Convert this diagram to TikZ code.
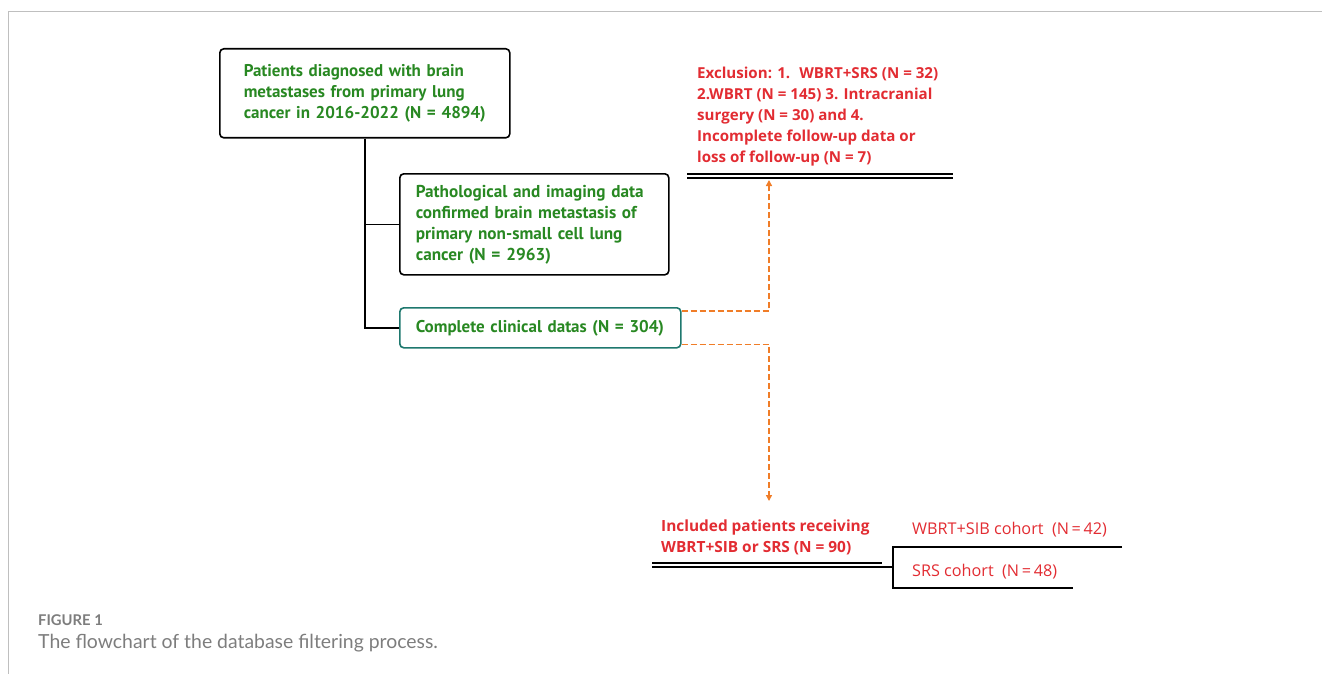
\documentclass[tikz,border=0pt]{standalone}
\usepackage{fontspec}
\setmainfont{Open Sans}
\newfontfamily\boxfont{PT Sans}
\newfontfamily\capfont{Lato}
\usetikzlibrary{positioning, arrows.meta}

\definecolor{flowgreen}{RGB}{40,136,34}
\definecolor{flowred}{RGB}{226,44,50}
\definecolor{flowteal}{RGB}{30,120,110}
\definecolor{floworange}{RGB}{240,125,40}
\definecolor{capgray}{RGB}{125,125,125}

\tikzset{
    flowbox/.style={draw, line width=1.6pt, rounded corners=4pt, anchor=north west,
        text=flowgreen, align=left, inner ysep=0pt},
    greenfont/.style={font=\boxfont\bfseries\fontsize{#1}{21}\selectfont},
    redbold/.style={anchor=north west, inner sep=0pt, align=left, text=flowred,
        font=\bfseries\fontsize{#1}{21}\selectfont},
    redplain/.style={anchor=west, inner sep=0pt, text=flowred,
        font=\fontsize{16.2}{21}\selectfont},
    dashline/.style={floworange, line width=1.4pt, dash pattern=on 6pt off 3pt,
        -{Triangle[width=6pt, length=6pt]}},
    trunk/.style={line width=1.6pt}
}

\begin{document}
\begin{tikzpicture}[x=1pt, y=-1pt]
    \useasboundingbox (0,0) rectangle (1322,674);

    % frame of the figure panel
    \draw[black!25, line width=1pt] (1322,12) -- (8,12) -- (8,674);

    % boxes
    \node[flowbox, greenfont=17, inner xsep=24pt, text width=242pt, minimum height=89pt] (all) at (219,48)
        {Patients diagnosed with brain\\metastases from primary lung\\cancer in 2016-2022 (N = 4894)};
    \node[flowbox, greenfont=17.2, inner xsep=16pt, text width=237pt, minimum height=101pt] (nsclc) at (399,173)
        {Pathological and imaging data\\confirmed brain metastasis of\\primary non-small cell lung\\cancer (N = 2963)};
    \node[flowbox, greenfont=17, draw=flowteal, inner xsep=16pt, text width=249pt, minimum height=40pt] (clinical) at (399,307)
        {Complete clinical datas (N = 304)};

    \draw[trunk] (all.south) |- (nsclc.west);
    \draw[trunk] (all.south) |- (clinical.west);

    % exclusion
    \node[redbold=15.1] (excl) at (697,67)
        {Exclusion: 1.~ WBRT+SRS (N = 32)\\2.WBRT (N = 145) 3. Intracranial\\surgery (N = 30) and 4.\\Incomplete follow-up data or\\loss of follow-up (N = 7)};
    \coordinate (exclL) at (687,174);
    \coordinate (exclR) at (953,174);
    \draw[line width=1.3pt] (exclL) -- (exclR);
    \draw[line width=1.3pt] ([yshift=-4pt]exclL) -- ([yshift=-4pt]exclR);
    \coordinate (exclTip) at (769,180);
    \draw[dashline] ([yshift=-4pt]clinical.north east) -| (exclTip);

    % inclusion
    \node[redbold=15.4] (incl) at (661,520)
        {Included patients receiving\\WBRT+SIB or SRS (N = 90)};
    \coordinate (inclTip) at (769,501);
    \draw[dashline] ([yshift=4pt]clinical.south east) -| (inclTip);

    \coordinate (inclL) at (652,563);
    \coordinate (split) at (893,567);
    \draw[line width=1.3pt] (inclL) -- (882,563);
    \draw[line width=1.3pt] ([yshift=-4pt]inclL) -- (split);

    % cohorts
    \node[redplain] (sib) at (912,530) {WBRT+SIB cohort\ \ (N\,=\,42)};
    \node[redplain] (srs) at (912,572) {SRS cohort\ \ (N\,=\,48)};
    \draw[line width=1.3pt] (1122,547) -- (893,547) -- (893,588) -- (1073,588);

    % caption
    \node[anchor=west, inner sep=0pt, text=capgray, font=\capfont\bfseries\fontsize{14.8}{16}\selectfont] (figno) at (38,620) {FIGURE 1};
    \node[anchor=west, inner sep=0pt, text=capgray, font=\capfont\fontsize{19.4}{22}\selectfont] (caption) at (38,643) {The flowchart of the database filtering process.};
\end{tikzpicture}
\end{document}
